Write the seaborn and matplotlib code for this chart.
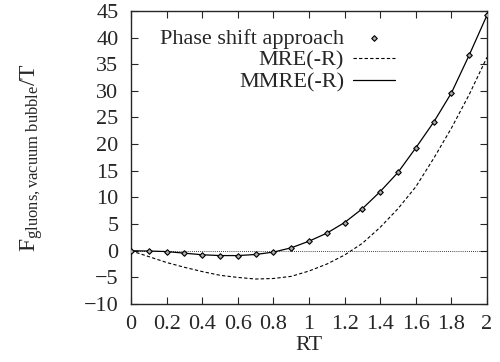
import numpy as np
import pandas as pd
import matplotlib
matplotlib.use("Agg")
import matplotlib.pyplot as plt
import seaborn as sns

# Data
rt_points = [0.0, 0.1, 0.2, 0.3, 0.4, 0.5, 0.6, 0.7, 0.8, 0.9, 1.0,
             1.1, 1.2, 1.3, 1.4, 1.5, 1.6, 1.7, 1.8, 1.9, 2.0]
phase_shift = [0.0, -0.05, -0.15, -0.45, -0.75, -0.9, -0.9, -0.7, -0.25, 0.55, 1.8,
               3.3, 5.3, 7.9, 11.1, 14.7, 19.3, 24.1, 29.6, 36.7, 44.2]
mmre = phase_shift
rt_mre = [0.0, 0.1, 0.2, 0.3, 0.4, 0.5, 0.6, 0.7, 0.8, 0.9, 1.0,
          1.1, 1.2, 1.3, 1.4, 1.5, 1.6, 1.7, 1.8, 1.9, 2.0]
mre = [0.0, -1.1, -2.2, -3.1, -3.9, -4.6, -5.0, -5.3, -5.2, -4.8, -3.8,
       -2.5, -0.8, 1.4, 4.4, 7.9, 12.0, 17.3, 23.0, 29.3, 36.3]
xticks = [0, 0.2, 0.4, 0.6, 0.8, 1, 1.2, 1.4, 1.6, 1.8, 2]
xtick_labels = ["0", "0.2", "0.4", "0.6", "0.8", "1", "1.2", "1.4", "1.6", "1.8", "2"]
yticks = [-10, -5, 0, 5, 10, 15, 20, 25, 30, 35, 40, 45]

sns.set_style("ticks")
plt.rcParams['font.family'] = ['Liberation Serif', 'DejaVu Serif']
plt.rcParams['mathtext.fontset'] = 'custom'
plt.rcParams['mathtext.rm'] = 'Liberation Serif'
plt.rcParams['mathtext.it'] = 'Liberation Serif'

fig = plt.figure(figsize=(5, 3.62), dpi=100)
ax = fig.add_axes([0.262, 0.16, 0.712, 0.81])

df_pts = pd.DataFrame({"RT": rt_points, "F": phase_shift})
df_mre = pd.DataFrame({"RT": rt_mre, "F": mre})
df_mmre = pd.DataFrame({"RT": rt_points, "F": mmre})

ax.axhline(0, color="black", lw=0.6, ls=(0, (1, 1.5)), zorder=1)
sns.lineplot(data=df_mre, x="RT", y="F", ax=ax, color="black", lw=0.8,
             linestyle=(0, (3, 2)), label="MRE(-R)", zorder=2)
sns.lineplot(data=df_mmre, x="RT", y="F", ax=ax, color="black", lw=0.9,
             label="MMRE(-R)", zorder=2)
sns.scatterplot(data=df_pts, x="RT", y="F", ax=ax, marker="D", s=8,
                color="#aaaaaa", edgecolor="black", linewidth=0.8,
                label="Phase shift approach", zorder=3)

ax.set_xlim(0, 2)
ax.set_ylim(-10, 45)
ax.set_xticks(xticks)
ax.set_xticklabels(xtick_labels)
ax.set_yticks(yticks)
ax.tick_params(axis="y", pad=9)
ax.tick_params(axis="x", pad=8)
ax.tick_params(direction="in", top=True, right=True, labelsize=16, length=5, width=0.8)
for s in ax.spines.values():
    s.set_linewidth(1.0)
    s.set_visible(True)

ax.set_xlabel("RT", fontsize=16, labelpad=1)
ax.set_ylabel(r"$\mathrm{F_{gluons,vacuum\ bubble}/T}$", fontsize=17, labelpad=28)

handles, labels = ax.get_legend_handles_labels()
order = [labels.index("Phase shift approach"), labels.index("MRE(-R)"), labels.index("MMRE(-R)")]
leg = ax.legend([handles[i] for i in order], [labels[i] for i in order],
                loc="upper right", bbox_to_anchor=(0.742, 0.94), frameon=False,
                markerfirst=False, fontsize=16, handlelength=1.9,
                handletextpad=0.4, labelspacing=0.05, borderaxespad=0, borderpad=0)
for t in leg.get_texts():
    t.set_ha("right")
leg._legend_box.align = "right"

fig.savefig("out.png", dpi=100)
